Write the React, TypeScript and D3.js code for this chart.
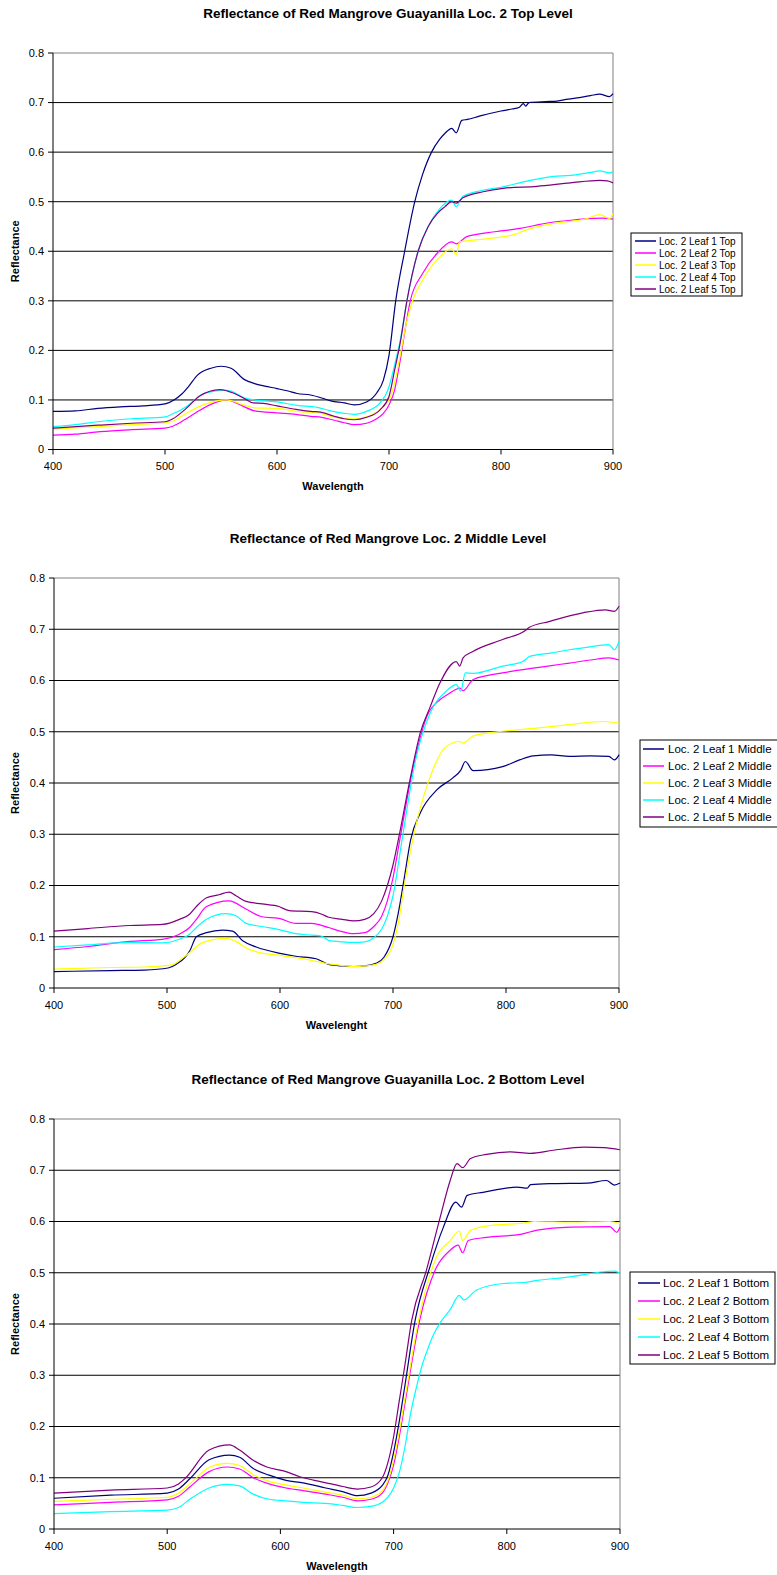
import * as d3 from "d3";

// axis ticks shared by all three panels
const wavelengthTicks = [400, 500, 600, 700, 800, 900];
const reflectanceTicks = [0, 0.1, 0.2, 0.3, 0.4, 0.5, 0.6, 0.7, 0.8];
const leafColors = ["#000080", "#FF00FF", "#FFFF00", "#00FFFF", "#800080"];

// ---- Top level ----
const topTitle = "Reflectance of Red Mangrove Guayanilla Loc. 2 Top Level";
const topLabels = ["Loc. 2 Leaf 1 Top", "Loc. 2 Leaf 2 Top", "Loc. 2 Leaf 3 Top", "Loc. 2 Leaf 4 Top", "Loc. 2 Leaf 5 Top"];
const top1 = [[400,.077],[420,.078],[440,.083],[460,.086],[480,.088],[500,.092],[508,.100],[515,.112],[521,.127],[529,.150],[541,.164],[550,.168],[559,.164],[571,.141],[580,.133],[589,.128],[600,.123],[610,.118],[618,.113],[630,.110],[640,.104],[648,.098],[660,.094],[669,.090],[680,.096],[689,.114],[695,.140],[700,.190],[706,.300],[714,.400],[723,.500],[730,.555],[738,.600],[745,.625],[750,.638],[756,.648],[760,.639],[765,.664],[770,.666],[780,.672],[790,.678],[800,.683],[810,.687],[816,.690],[820,.698],[822,.693],[825,.700],[840,.702],[850,.703],[860,.707],[870,.710],[880,.714],[888,.717],[897,.712],[900,.718]];
const top2 = [[400,.029],[420,.031],[442,.036],[470,.040],[500,.043],[507,.047],[519,.062],[531,.079],[540,.090],[555,.100],[570,.087],[580,.078],[600,.074],[617,.071],[630,.067],[640,.065],[651,.059],[660,.054],[669,.050],[680,.053],[689,.062],[695,.073],[700,.090],[705,.120],[710,.180],[715,.250],[719,.300],[730,.355],[743,.396],[756,.419],[760,.415],[769,.429],[787,.437],[800,.441],[817,.446],[830,.452],[847,.459],[860,.462],[877,.466],[890,.467],[900,.465]];
const top3 = [[400,.041],[440,.046],[470,.050],[500,.054],[507,.057],[519,.073],[534,.090],[555,.100],[570,.090],[580,.084],[600,.083],[621,.076],[635,.075],[651,.065],[669,.062],[680,.066],[690,.077],[695,.087],[700,.100],[705,.135],[710,.190],[716,.260],[721,.300],[730,.342],[743,.383],[756,.405],[760,.393],[763,.419],[787,.425],[814,.435],[820,.441],[847,.456],[877,.466],[888,.474],[897,.466],[900,.476]];
const top4 = [[400,.046],[420,.050],[440,.056],[470,.062],[500,.066],[507,.072],[520,.088],[532,.110],[545,.118],[553,.120],[559,.118],[571,.104],[589,.098],[600,.096],[618,.089],[636,.085],[648,.078],[660,.073],[669,.071],[680,.077],[692,.094],[699,.120],[705,.170],[710,.220],[716,.300],[726,.400],[735,.450],[745,.485],[756,.503],[760,.490],[766,.511],[784,.523],[802,.530],[820,.540],[847,.551],[862,.553],[880,.559],[888,.562],[897,.558],[900,.561]];
const top5 = [[400,.043],[440,.049],[470,.053],[500,.056],[507,.062],[519,.083],[531,.108],[549,.121],[561,.114],[570,.104],[579,.094],[588,.093],[600,.088],[617,.081],[630,.077],[640,.075],[651,.067],[660,.062],[669,.060],[680,.065],[692,.080],[700,.107],[705,.160],[710,.215],[716,.300],[726,.400],[735,.450],[743,.476],[750,.490],[756,.500],[760,.497],[766,.508],[784,.520],[802,.527],[832,.531],[862,.538],[888,.543],[895,.542],[900,.538]];

// ---- Middle level ----
const midTitle = "Reflectance of Red Mangrove Loc. 2 Middle Level";
const midLabels = ["Loc. 2 Leaf 1 Middle", "Loc. 2 Leaf 2 Middle", "Loc. 2 Leaf 3 Middle", "Loc. 2 Leaf 4 Middle", "Loc. 2 Leaf 5 Middle"];
const mid1 = [[400,.032],[450,.034],[480,.035],[501,.039],[508,.046],[516,.060],[520,.072],[526,.100],[535,.108],[549,.113],[558,.111],[567,.092],[579,.080],[599,.068],[614,.062],[632,.057],[643,.046],[655,.043],[665,.042],[675,.043],[685,.048],[692,.060],[700,.100],[705,.150],[710,.215],[715.6,.289],[724,.341],[739,.387],[753,.410],[760,.425],[764,.442],[771,.424],[797,.432],[812,.445],[824,.453],[840,.455],[856,.452],[875,.453],[891,.452],[896,.445],[900,.455]];
const mid2 = [[400,.075],[430,.081],[467,.091],[496,.095],[511,.105],[520,.118],[526,.134],[535,.159],[555,.170],[570,.154],[584,.139],[599,.136],[614,.126],[628,.126],[643,.118],[655,.110],[665,.106],[675,.108],[683,.120],[690,.140],[695,.170],[700,.215],[706,.289],[718,.432],[730,.530],[741.5,.5625],[750,.575],[756,.583],[759,.585],[762,.580],[771,.602],[797,.615],[824,.624],[840,.629],[856,.634],[875,.640],[891,.644],[900,.640]];
const mid3 = [[400,.037],[450,.040],[480,.041],[504,.045],[516,.062],[532,.089],[552,.097],[561,.091],[570,.078],[584,.068],[599,.064],[614,.059],[628,.054],[643,.047],[655,.044],[665,.042],[675,.043],[685,.046],[692,.055],[700,.085],[705,.130],[710,.200],[717.4,.289],[733,.413],[747,.471],[759,.481],[762,.478],[771,.492],[797,.501],[827,.507],[856,.514],[886,.520],[900,.517]];
const mid4 = [[400,.080],[430,.084],[467,.089],[496,.088],[511,.095],[520,.105],[526,.118],[535,.134],[552,.145],[561,.141],[570,.126],[584,.120],[599,.114],[614,.106],[628,.103],[637,.101],[643,.093],[655,.090],[665,.089],[675,.090],[683,.098],[690,.115],[695,.140],[700,.180],[708,.289],[720,.445],[733,.537],[747,.579],[756,.592],[760,.579],[764,.615],[771,.614],[797,.628],[815,.637],[821,.647],[841,.654],[856,.660],[870,.664],[891,.670],[896,.660],[900,.676]];
const mid5 = [[400,.111],[430,.116],[467,.122],[496,.124],[511,.134],[520,.144],[526,.159],[535,.176],[546,.182],[555,.187],[561,.180],[570,.169],[584,.164],[599,.159],[608,.151],[628,.149],[637,.144],[643,.138],[655,.134],[665,.131],[675,.134],[683,.145],[690,.170],[695,.200],[700,.240],[704.7,.289],[715,.406],[724,.497],[733,.549],[741.5,.595],[756,.637],[759,.628],[762,.644],[771,.657],[797,.680],[818,.699],[820,.703],[838,.715],[868,.732],[888,.738],[896,.735],[900,.745]];

// ---- Bottom level ----
const botTitle = "Reflectance of Red Mangrove Guayanilla Loc. 2 Bottom Level";
const botLabels = ["Loc. 2 Leaf 1 Bottom", "Loc. 2 Leaf 2 Bottom", "Loc. 2 Leaf 3 Bottom", "Loc. 2 Leaf 4 Bottom", "Loc. 2 Leaf 5 Bottom"];
const bot1 = [[400,.060],[450,.066],[500,.070],[510,.078],[520,.098],[537,.135],[555,.144],[564,.140],[576,.118],[590,.105],[605,.095],[620,.090],[640,.080],[655,.073],[668,.065],[680,.070],[690,.085],[695,.105],[700,.150],[705,.210],[710,.280],[719,.407],[732,.511],[744,.589],[755,.638],[760,.628],[765,.651],[779,.657],[809,.667],[818,.665],[821,.672],[841,.674],[871,.675],[888,.680],[895,.671],[900,.675]];
const bot2 = [[400,.047],[450,.052],[500,.057],[510,.064],[520,.082],[537,.112],[553,.121],[564,.117],[576,.100],[590,.088],[605,.080],[620,.075],[640,.068],[655,.062],[668,.055],[680,.058],[690,.070],[695,.090],[700,.125],[705,.180],[710,.245],[723,.407],[738,.511],[750,.544],[757,.554],[761,.539],[766,.563],[782,.569],[812,.575],[821,.580],[827,.583],[856,.589],[891,.590],[897,.579],[900,.589]];
const bot3 = [[400,.054],[450,.058],[500,.062],[510,.070],[520,.088],[537,.120],[553,.128],[564,.124],[576,.106],[590,.093],[605,.086],[620,.080],[640,.072],[655,.066],[668,.059],[680,.062],[690,.075],[695,.095],[700,.135],[705,.190],[710,.255],[722,.407],[738,.531],[750,.563],[758,.581],[761,.563],[768,.583],[788,.593],[815,.597],[824,.600],[856,.599],[891,.600],[900,.596]];
const bot4 = [[400,.030],[450,.034],[500,.037],[510,.042],[520,.058],[537,.080],[553,.087],[564,.084],[576,.068],[590,.058],[605,.055],[620,.052],[640,.050],[655,.046],[668,.042],[680,.044],[690,.052],[695,.062],[700,.080],[705,.110],[710,.160],[715,.225],[720,.275],[725,.318],[730,.350],[735,.378],[742,.405],[750,.428],[758,.456],[762,.447],[773,.466],[797,.479],[815,.481],[827,.485],[856,.492],[886,.502],[895,.503],[900,.499]];
const bot5 = [[400,.070],[450,.076],[500,.080],[510,.088],[516,.099],[537,.154],[555,.164],[564,.154],[576,.134],[588,.121],[605,.112],[617,.102],[630,.095],[645,.088],[655,.083],[668,.078],[680,.082],[690,.100],[695,.130],[700,.180],[705,.250],[710,.320],[716,.407],[729,.505],[741,.607],[750,.680],[756,.713],[761,.705],[768,.723],[782,.731],[803,.736],[821,.733],[841,.739],[868,.745],[886,.744],[900,.740]];

const FONT = "'Liberation Sans', Arial, sans-serif";

function Chart({ title, xTitle, labels, series, box, legend }) {
  const x = d3.scaleLinear().domain([400, 900]).range([box.left, box.right]);
  const y = d3.scaleLinear().domain([0, 0.8]).range([box.bottom, box.top]);
  const line = d3
    .line()
    .x((d) => x(d[0]))
    .y((d) => y(d[1]))
    .curve(d3.curveMonotoneX);
  const midX = (box.left + box.right) / 2;
  const midY = (box.top + box.bottom) / 2;

  return (
    <g fontFamily={FONT}>
      <text x={388} y={box.top - 40} dy="0.35em" textAnchor="middle" fontSize={13.5} fontWeight="bold">
        {title}
      </text>

      {/* gridlines */}
      {reflectanceTicks.slice(1, -1).map((t) => (
        <line key={t} x1={box.left} x2={box.right} y1={y(t)} y2={y(t)} stroke="#000" strokeWidth={1} />
      ))}
      {/* frame */}
      <line x1={box.left} x2={box.right} y1={box.top} y2={box.top} stroke="#808080" />
      <line x1={box.right} x2={box.right} y1={box.top} y2={box.bottom} stroke="#808080" />

      {series.map((s, i) => (
        <path key={i} d={line(s)} fill="none" stroke={leafColors[i]} strokeWidth={1.2} />
      ))}

      {/* y axis */}
      <line x1={box.left} x2={box.left} y1={box.top} y2={box.bottom} stroke="#000" />
      {reflectanceTicks.map((t) => (
        <g key={t}>
          <line x1={box.left - 5} x2={box.left} y1={y(t)} y2={y(t)} stroke="#000" />
          <text x={box.left - 9} y={y(t)} dy="0.35em" textAnchor="end" fontSize={11}>
            {t === 0 ? "0" : t.toFixed(1)}
          </text>
        </g>
      ))}
      {/* x axis */}
      <line x1={box.left} x2={box.right} y1={box.bottom} y2={box.bottom} stroke="#000" />
      {wavelengthTicks.map((t) => (
        <g key={t}>
          <line x1={x(t)} x2={x(t)} y1={box.bottom} y2={box.bottom + 5} stroke="#000" />
          <text x={x(t)} y={box.bottom + 17} dy="0.35em" textAnchor="middle" fontSize={11}>
            {t}
          </text>
        </g>
      ))}

      <text x={midX} y={box.bottom + 37} dy="0.35em" textAnchor="middle" fontSize={11} fontWeight="bold">
        {xTitle}
      </text>
      <text
        transform={`translate(15,${midY}) rotate(-90)`}
        dy="0.35em"
        textAnchor="middle"
        fontSize={11}
        fontWeight="bold"
      >
        Reflectance
      </text>

      {/* legend */}
      <rect
        x={legend.x0}
        y={legend.y0}
        width={legend.x1 - legend.x0}
        height={legend.y1 - legend.y0}
        fill="#fff"
        stroke="#000"
      />
      {labels.map((lab, i) => {
        const ly = legend.first + legend.step * i;
        return (
          <g key={lab}>
            <line x1={legend.lx0} x2={legend.lx1} y1={ly} y2={ly} stroke={leafColors[i]} strokeWidth={1.5} />
            <text x={legend.tx} y={ly} dy="0.35em" fontSize={legend.size}>
              {lab}
            </text>
          </g>
        );
      })}
    </g>
  );
}

export default function App() {
  return (
    <svg
      width={777}
      height={1575}
      style={{ position: "absolute", left: 0, top: 0, background: "#fff" }}
    >
      <rect width={777} height={1575} fill="#fff" />
      <Chart
        title={topTitle}
        xTitle="Wavelength"
        labels={topLabels}
        series={[top1, top2, top3, top4, top5]}
        box={{ left: 53, right: 613, top: 53, bottom: 449.5 }}
        legend={{ x0: 631, x1: 742, y0: 233, y1: 296, first: 241, step: 12, size: 10, lx0: 635, lx1: 656, tx: 659 }}
      />
      <Chart
        title={midTitle}
        xTitle="Wavelenght"
        labels={midLabels}
        series={[mid1, mid2, mid3, mid4, mid5]}
        box={{ left: 54, right: 619, top: 578, bottom: 988 }}
        legend={{ x0: 640, x1: 782, y0: 740, y1: 827, first: 749, step: 17, size: 11.5, lx0: 643, lx1: 664, tx: 668 }}
      />
      <Chart
        title={botTitle}
        xTitle="Wavelength"
        labels={botLabels}
        series={[bot1, bot2, bot3, bot4, bot5]}
        box={{ left: 54, right: 620, top: 1119, bottom: 1529 }}
        legend={{ x0: 630, x1: 775, y0: 1272, y1: 1364, first: 1283, step: 18, size: 11.5, lx0: 638, lx1: 660, tx: 663 }}
      />
    </svg>
  );
}
